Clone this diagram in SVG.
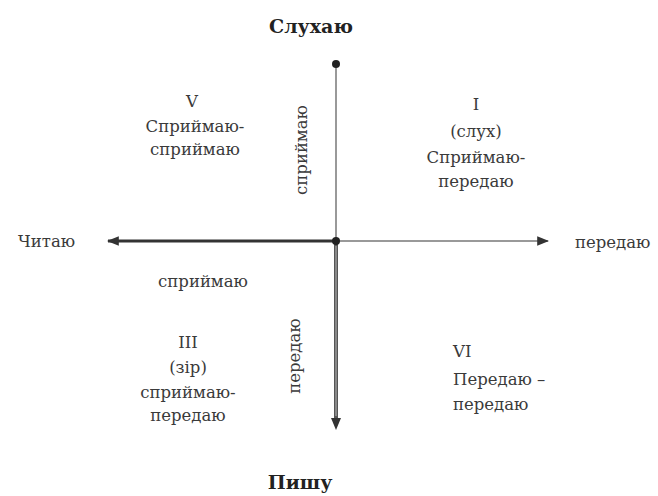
<svg xmlns="http://www.w3.org/2000/svg" width="658" height="496" viewBox="0 0 658 496">
<style>
text{font-family:"DejaVu Serif",serif;font-size:16.5px;fill:#3a3a3a}
.b{font-weight:bold;font-size:19px;fill:#222}
.c{text-anchor:middle}
.thin{stroke:#777;stroke-width:1.5;fill:none}
.thick{stroke:#333;stroke-width:3;fill:none}
</style>
<defs>
<marker id="ah" viewBox="0 0 10 10" refX="9" refY="5" markerWidth="4" markerHeight="4" orient="auto" markerUnits="strokeWidth"><path d="M0,1 L10,5 L0,9 z" fill="#333"/></marker>
<marker id="ah2" viewBox="0 0 10 10" refX="9" refY="5" markerWidth="8" markerHeight="8" orient="auto" markerUnits="strokeWidth"><path d="M0,1 L10,5 L0,9 z" fill="#333"/></marker>
</defs>
<g id="connectors">
<line class="thin" x1="336" y1="64" x2="336" y2="241"/>
<line class="thin" x1="336" y1="241" x2="548" y2="241" marker-end="url(#ah2)"/>
<line class="thick" x1="336" y1="241" x2="108" y2="241" marker-end="url(#ah)"/>
<line stroke="#555" stroke-width="4" x1="336" y1="241" x2="336" y2="418"/>
<line stroke="#bbb" stroke-width="1" x1="336" y1="246" x2="336" y2="416"/>
<path d="M331,418 L341,418 L336,430 z" fill="#333"/>
<circle cx="336" cy="64" r="4" fill="#222"/>
<circle cx="336" cy="241" r="4" fill="#222"/>
</g>
<g id="top"><text class="b c" x="311" y="33">Слухаю</text></g>
<g id="bottom"><text class="b c" x="300" y="489">Пишу</text></g>
<g id="left"><text x="18" y="247">Читаю</text></g>
<g id="right"><text x="575" y="248">передаю</text></g>
<g id="left-below"><text class="c" x="203" y="287">сприймаю</text></g>
<g id="vert-up"><text class="c" transform="translate(307,150) rotate(-90)">сприймаю</text></g>
<g id="vert-down"><text class="c" transform="translate(300,356) rotate(-90)">передаю</text></g>
<g id="q5">
<text class="c" x="192" y="107">V</text>
<text class="c" x="195" y="132">Сприймаю-</text>
<text class="c" x="195" y="155">сприймаю</text>
</g>
<g id="q1">
<text class="c" x="476" y="110">I</text>
<text class="c" x="476" y="137">(слух)</text>
<text class="c" x="476" y="163">Сприймаю-</text>
<text class="c" x="476" y="187">передаю</text>
</g>
<g id="q3">
<text class="c" x="188" y="348">III</text>
<text class="c" x="188" y="373">(зір)</text>
<text class="c" x="188" y="398">сприймаю-</text>
<text class="c" x="188" y="421">передаю</text>
</g>
<g id="q6">
<text x="453" y="357">VI</text>
<text x="453" y="385">Передаю –</text>
<text x="453" y="410">передаю</text>
</g>
</svg>
